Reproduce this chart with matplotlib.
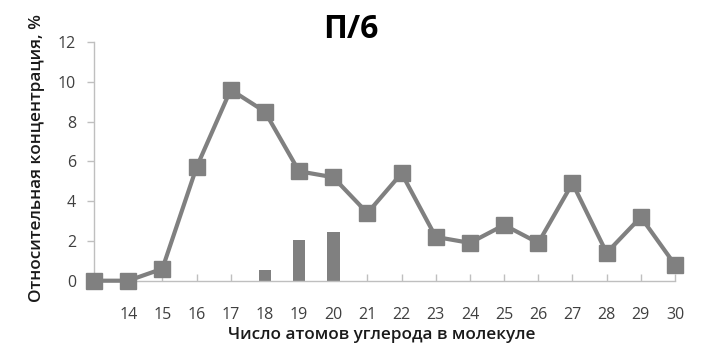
import matplotlib
matplotlib.use("Agg")
import matplotlib.pyplot as plt

# data
carbon = [13, 14, 15, 16, 17, 18, 19, 20, 21, 22, 23, 24, 25, 26, 27, 28, 29, 30]
tick_labels = ["", "14", "15", "16", "17", "18", "19", "20", "21", "22", "23",
               "24", "25", "26", "27", "28", "29", "30"]
line_values = [0.0, 0.0, 0.6, 5.7, 9.6, 8.5, 5.5, 5.2, 3.4, 5.4, 2.2, 1.9,
               2.8, 1.9, 4.9, 1.4, 3.2, 0.8]
bar_x = [18, 19, 20]
bar_values = [0.55, 2.05, 2.45]

plt.rcParams['font.family'] = ['Open Sans', 'DejaVu Sans']

fig = plt.figure(figsize=(7.01, 3.57), dpi=100)
ax = fig.add_axes([94/701, 1-280.7/357, (675-94)/701, (280.7-42)/357])

gray = '#808080'
ax.bar(bar_x, bar_values, width=0.37, color=gray, zorder=2)
ax.plot(carbon, line_values, color=gray, linewidth=3.0, marker='s',
        markersize=11, markerfacecolor=gray, markeredgecolor=gray,
        clip_on=False, zorder=3)

ax.set_xlim(13, 30)
ax.set_ylim(0, 12)
ax.set_yticks(range(0, 13, 2))
ax.set_xticks(carbon)
ax.set_xticklabels(tick_labels)

for s in ['top', 'right']:
    ax.spines[s].set_visible(False)
for s in ['left', 'bottom']:
    ax.spines[s].set_color('#bfbfbf')
    ax.spines[s].set_linewidth(1.0)

ax.tick_params(axis='x', direction='in', length=5, width=1, color='#bfbfbf',
               pad=19, labelsize=11.5, labelcolor='#404040')
ax.tick_params(axis='y', direction='out', length=5, width=1, color='#bfbfbf',
               pad=8, labelsize=11.5, labelcolor='#404040')

fig.text(351/701, 1-30/357, 'П/6', ha='center', va='center', fontsize=23,
         fontweight='bold', color='#000000')
fig.text(37/701, 1-158/357, 'Относительная концентрация, %', rotation=90,
         ha='center', va='center', fontsize=12.3, fontweight='semibold', color='#1a1a1a')
fig.text(382/701, 1-335/357, 'Число атомов углерода в молекуле', ha='center',
         va='center', fontsize=12.3, fontweight='semibold', color='#1a1a1a')

fig.savefig('out.png', dpi=100)
